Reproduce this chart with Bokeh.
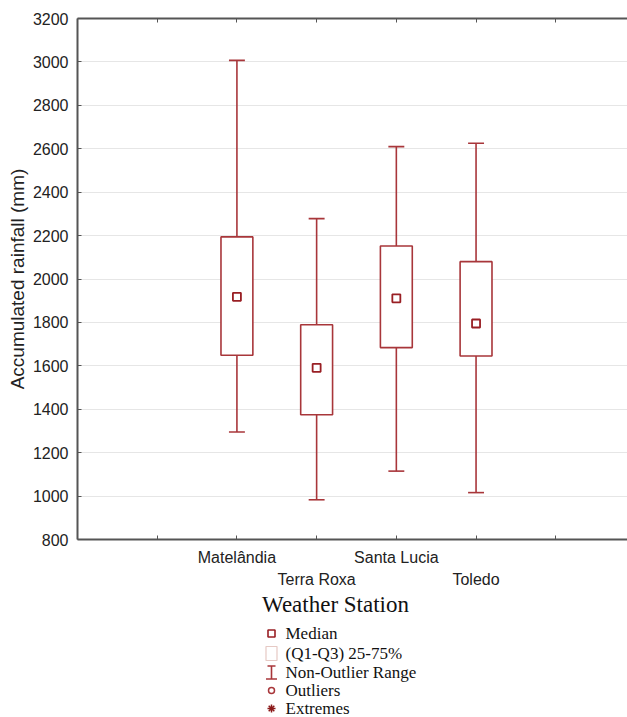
from bokeh.plotting import figure
from bokeh.models import Range1d, FixedTicker, LinearAxis, ColumnDataSource
from bokeh.layouts import column
from bokeh.core.properties import value
from bokeh.embed import file_html
from bokeh.resources import INLINE
import numpy as np

# ---- data ----
stations = ["Matelândia", "Terra Roxa", "Santa Lucia", "Toledo"]
whisker_low = [1295, 983, 1115, 1016]
q1 = [1649, 1375, 1684, 1645]
median = [1918, 1591, 1911, 1795]
q3 = [2194, 1789, 2152, 2080]
whisker_high = [3007, 2278, 2610, 2625]

y_ticks = list(range(800, 3201, 200))
x_title = "Weather Station"
y_title = "Accumulated rainfall (mm)"
legend_labels = ["Median", "(Q1-Q3) 25-75%", "Non-Outlier Range", "Outliers", "Extremes"]

RED = "#A8363A"
AXIS = "#555555"
SANS = "Liberation Sans"
SERIF = "Liberation Serif"

FRAME_LEFT = 77
WIDTH = 627
TOP_H = 591
xpos = np.arange(len(stations)) + 2.0
x_ticks = [1, 2, 3, 4, 5, 6]
src = ColumnDataSource(dict(x=xpos, lo=whisker_low, q1=q1, med=median, q3=q3, hi=whisker_high,
                            mid=[(a + b) / 2 for a, b in zip(q1, q3)],
                            h=[b - a for a, b in zip(q1, q3)]))

p = figure(width=WIDTH, height=TOP_H, output_backend="svg", toolbar_location=None,
           x_range=Range1d(0, 6.9), y_range=Range1d(800, 3200),
           min_border_left=FRAME_LEFT, min_border_right=0, min_border_top=18, min_border_bottom=52)
p.outline_line_color = None
p.background_fill_color = "white"
p.border_fill_color = "white"

# whiskers
p.segment(x0="x", y0="lo", x1="x", y1="q1", source=src, line_color=RED, line_width=1.6)
p.segment(x0="x", y0="q3", x1="x", y1="hi", source=src, line_color=RED, line_width=1.6)
cap = 0.1
p.segment(x0=xpos - cap, y0=whisker_low, x1=xpos + cap, y1=whisker_low, line_color=RED, line_width=1.6)
p.segment(x0=xpos - cap, y0=whisker_high, x1=xpos + cap, y1=whisker_high, line_color=RED, line_width=1.6)
# boxes
p.rect(x="x", y="mid", width=0.4, height="h", source=src, fill_color="white",
       line_color=RED, line_width=1.6)
# median
p.scatter(x="x", y="med", source=src, marker="square", size=8, fill_color="white",
          line_color="#991F24", line_width=1.8)

# axes
p.yaxis.ticker = FixedTicker(ticks=y_ticks)
p.yaxis.axis_label = y_title
p.yaxis.axis_label_text_font = SANS
p.yaxis.axis_label_text_font_size = "19px"
p.yaxis.axis_label_text_font_style = "normal"
p.yaxis.axis_label_text_color = "#222222"
p.yaxis.axis_label_standoff = 2
p.yaxis.major_label_text_font = SANS
p.yaxis.major_label_text_font_size = "16px"
p.yaxis.major_label_text_color = "#222222"
p.yaxis.major_label_standoff = 9
p.yaxis.major_tick_in = 4
p.yaxis.major_tick_out = 0
p.yaxis.minor_tick_line_color = None
p.yaxis.axis_line_color = AXIS
p.yaxis.axis_line_width = 2
p.yaxis.major_tick_line_color = AXIS

p.xaxis.ticker = FixedTicker(ticks=x_ticks)
overrides = {1: "", 6: ""}
for i, s in enumerate(stations):
    overrides[int(xpos[i])] = s if i % 2 == 0 else "\n" + s
p.xaxis.major_label_overrides = overrides
p.xaxis.major_label_text_font = SANS
p.xaxis.major_label_text_font_size = "16px"
p.xaxis.major_label_text_color = "#222222"
p.xaxis.major_label_text_line_height = 1.35
p.xaxis.major_label_standoff = 9
p.xaxis.major_tick_in = 4
p.xaxis.major_tick_out = 0
p.xaxis.minor_tick_line_color = None
p.xaxis.axis_line_color = AXIS
p.xaxis.axis_line_width = 2
p.xaxis.major_tick_line_color = AXIS

top = LinearAxis(ticker=FixedTicker(ticks=x_ticks),
                 major_label_overrides={t: "" for t in x_ticks},
                 major_label_standoff=0, major_tick_in=4, major_tick_out=0,
                 minor_tick_line_color=None, axis_line_color=AXIS, axis_line_width=2,
                 major_tick_line_color=AXIS)
p.add_layout(top, "above")

p.xgrid.grid_line_color = None
p.ygrid.ticker = FixedTicker(ticks=y_ticks)
p.ygrid.grid_line_color = "#e6e6e6"
p.ygrid.grid_line_width = 1

# ---- lower panel: axis title and legend (column aligns its frame with p's frame) ----
q = figure(width=WIDTH, height=717 - TOP_H, output_backend="svg", toolbar_location=None,
           x_range=Range1d(FRAME_LEFT, WIDTH), y_range=Range1d(717, TOP_H),
           x_axis_location=None, y_axis_location=None,
           min_border=0, min_border_left=FRAME_LEFT, min_border_right=0,
           min_border_top=0, min_border_bottom=0)
q.grid.visible = False
q.outline_line_color = None
q.background_fill_color = "white"
q.border_fill_color = "white"

q.text(x=[335], y=[604], text=[x_title], text_font=value(SERIF), text_font_size=value("23px"),
       text_align="center", text_baseline="middle", text_color="#111111")

ly = [633, 653, 672, 690, 708]
mx = 271
q.scatter(x=[mx], y=[ly[0]], marker="square", size=7, fill_color="white",
          line_color="#991F24", line_width=1.6)
q.rect(x=[mx], y=[ly[1]], width=11, height=14, fill_color="white",
       line_color="#E6C9C4", line_width=1.2)
q.segment(x0=[mx, mx - 4, mx - 5.5], y0=[ly[2] - 6.5, ly[2] - 6.5, ly[2] + 6.5],
          x1=[mx, mx + 4, mx + 5.5], y1=[ly[2] + 6.5, ly[2] - 6.5, ly[2] + 6.5],
          line_color=RED, line_width=1.6)
q.scatter(x=[mx], y=[ly[3]], marker="circle", size=6, fill_color="white",
          line_color=RED, line_width=1.5)
q.scatter(x=[mx], y=[ly[4]], marker="asterisk", size=8, line_color="#8B1A1A", line_width=1.5)

q.text(x=[285] * len(legend_labels), y=ly, text=legend_labels, text_font=value(SERIF),
       text_font_size=value("17px"), text_align="left", text_baseline="middle",
       text_color="#111111")

layout = column(p, q, spacing=0)
open("out.html", "w").write(file_html(layout, INLINE))
